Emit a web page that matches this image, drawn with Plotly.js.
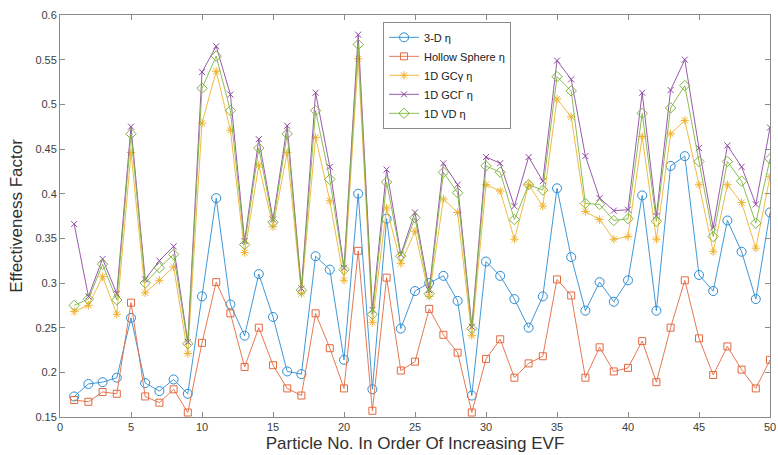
<!DOCTYPE html>
<html>
<head>
<meta charset="utf-8">
<script src="https://cdn.plot.ly/plotly-3.0.1.min.js"></script>
<style>html,body{margin:0;padding:0;background:#fff;}#chart{width:778px;height:455px;}</style>
</head>
<body>
<div id="chart"></div>
<script>
const particles = [1,2,3,4,5,6,7,8,9,10,11,12,13,14,15,16,17,18,19,20,21,22,23,24,25,26,27,28,29,30,31,32,33,34,35,36,37,38,39,40,41,42,43,44,45,46,47,48,49,50];

const eta3D = [0.173,0.187,0.189,0.194,0.261,0.188,0.179,0.192,0.176,0.285,
               0.395,0.276,0.241,0.310,0.262,0.201,0.198,0.330,0.315,0.214,
               0.400,0.181,0.372,0.249,0.291,0.300,0.308,0.280,0.174,0.324,
               0.308,0.282,0.250,0.285,0.406,0.329,0.269,0.301,0.279,0.303,
               0.398,0.269,0.431,0.442,0.309,0.291,0.370,0.335,0.282,0.379];

const etaHollow = [0.169,0.167,0.178,0.176,0.278,0.173,0.166,0.181,0.155,0.233,
                   0.301,0.266,0.206,0.250,0.208,0.182,0.174,0.266,0.227,0.182,
                   0.336,0.157,0.306,0.202,0.212,0.271,0.242,0.222,0.155,0.215,
                   0.237,0.194,0.210,0.218,0.304,0.286,0.194,0.228,0.201,0.205,
                   0.235,0.189,0.250,0.303,0.238,0.197,0.229,0.203,0.182,0.214];

const etaGCgamma = [0.268,0.275,0.307,0.265,0.446,0.289,0.303,0.318,0.221,0.479,
                    0.537,0.471,0.334,0.432,0.363,0.446,0.288,0.463,0.392,0.303,
                    0.551,0.256,0.384,0.322,0.358,0.285,0.394,0.379,0.241,0.410,
                    0.403,0.349,0.410,0.386,0.506,0.486,0.380,0.371,0.349,0.352,
                    0.464,0.349,0.467,0.482,0.410,0.335,0.410,0.390,0.339,0.419];

const etaGCGamma = [0.366,0.285,0.327,0.288,0.475,0.304,0.325,0.341,0.234,0.536,
                    0.565,0.511,0.347,0.461,0.371,0.476,0.294,0.513,0.430,0.317,
                    0.578,0.270,0.427,0.332,0.379,0.292,0.434,0.410,0.251,0.441,
                    0.434,0.386,0.441,0.414,0.549,0.528,0.442,0.395,0.381,0.382,
                    0.513,0.375,0.516,0.550,0.451,0.362,0.454,0.430,0.388,0.474];

const etaVD = [0.275,0.282,0.321,0.281,0.467,0.300,0.317,0.332,0.232,0.518,
               0.554,0.493,0.343,0.451,0.368,0.467,0.292,0.493,0.416,0.315,
               0.567,0.265,0.413,0.330,0.373,0.288,0.424,0.401,0.249,0.431,
               0.424,0.371,0.410,0.404,0.531,0.515,0.389,0.388,0.370,0.372,
               0.490,0.369,0.496,0.521,0.436,0.352,0.436,0.414,0.367,0.439];

const seriesNames = ['3-D η','Hollow Sphere η','1D GCγ η','1D GCΓ η','1D VD η'];
const seriesData = [eta3D, etaHollow, etaGCgamma, etaGCGamma, etaVD];
const colors = ['#2b8cd2','#e3693f','#efb22e','#8e48a3','#7fb540'];
const symbols = ['circle-open','square-open','asterisk-open','x-thin-open','diamond-open'];
const sizes = [9,7,7,6,8];

const traces = seriesData.map((ys, i) => ({
  x: particles,
  y: ys,
  name: seriesNames[i],
  type: 'scatter',
  mode: 'lines+markers',
  line: {color: colors[i], width: 0.9},
  marker: {symbol: symbols[i], size: sizes[i], color: colors[i], line: {color: colors[i], width: 1}}
}));

const axisCommon = {
  showgrid: false,
  zeroline: false,
  showline: true,
  linecolor: '#8a8a8a',
  linewidth: 1,
  mirror: 'ticks',
  ticks: 'inside',
  ticklen: 5,
  tickcolor: '#8a8a8a',
  tickfont: {family: 'Liberation Sans, Arial, sans-serif', size: 11, color: '#404040'}
};

const layout = {
  width: 778,
  height: 455,
  margin: {l: 60, r: 8, t: 15, b: 38},
  paper_bgcolor: '#ffffff',
  plot_bgcolor: '#ffffff',
  showlegend: true,
  legend: {
    x: 0.455, y: 0.983, xanchor: 'left', yanchor: 'top',
    bgcolor: '#ffffff', bordercolor: '#8a8a8a', borderwidth: 1,
    font: {family: 'Liberation Sans, Arial, sans-serif', size: 11, color: '#202020'},
    tracegroupgap: 0
  },
  xaxis: Object.assign({}, axisCommon, {
    range: [0, 50], dtick: 5, tick0: 0,
    title: {text: 'Particle No. In Order Of Increasing EVF', standoff: 4,
            font: {family: 'Liberation Sans, Arial, sans-serif', size: 17, color: '#303030'}}
  }),
  yaxis: Object.assign({}, axisCommon, {
    range: [0.15, 0.6], dtick: 0.05, tick0: 0.15,
    title: {text: 'Effectiveness Factor', standoff: 8,
            font: {family: 'Liberation Sans, Arial, sans-serif', size: 17, color: '#303030'}}
  })
};

Plotly.newPlot('chart', traces, layout, {displayModeBar: false, staticPlot: true});
</script>
</body>
</html>
